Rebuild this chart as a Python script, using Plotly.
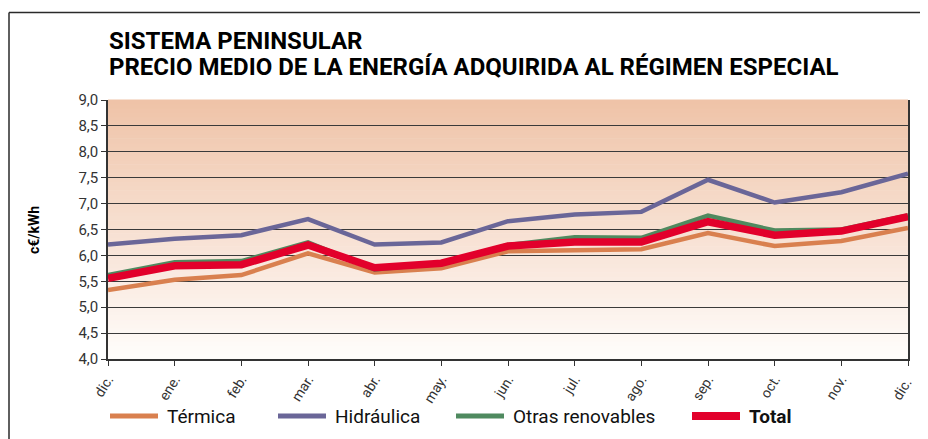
import plotly.graph_objects as go

months = ["dic.", "ene.", "feb.", "mar.", "abr.", "may.", "jun.", "jul.", "ago.", "sep.", "oct.", "nov.", "dic. "]
termica = [5.33, 5.53, 5.62, 6.04, 5.67, 5.75, 6.08, 6.10, 6.12, 6.43, 6.18, 6.28, 6.53]
hidraulica = [6.21, 6.32, 6.39, 6.70, 6.21, 6.25, 6.66, 6.79, 6.84, 7.46, 7.02, 7.22, 7.58]
otras = [5.62, 5.87, 5.89, 6.25, 5.73, 5.85, 6.20, 6.35, 6.34, 6.77, 6.48, 6.50, 6.77]
total = [5.56, 5.80, 5.82, 6.20, 5.76, 5.85, 6.18, 6.26, 6.26, 6.65, 6.39, 6.47, 6.75]
y_ticks = [4.0, 4.5, 5.0, 5.5, 6.0, 6.5, 7.0, 7.5, 8.0, 8.5, 9.0]
y_ticktext = ["4,0", "4,5", "5,0", "5,5", "6,0", "6,5", "7,0", "7,5", "8,0", "8,5", "9,0"]
series_names = ["Térmica", "Hidráulica", "Otras renovables", "Total"]
series_colors = ["#d9804f", "#6a6698", "#4f8a5f", "#e2002b"]
series_widths = [4.5, 4.5, 4.5, 7.5]

FONT = "Liberation Sans Narrow, Arial Narrow, Roboto, sans-serif"

OFF = 8  # page body margin
W, H = 920, 431
L, R, T, B = 100, 20, 92, 80
pw, ph = W - L - R, H - T - B

def px_x(x):
    return (x - OFF - L) / pw

def px_y(y):
    return (H - B - (y - OFF)) / ph

fig = go.Figure()
for name, vals, color, w in zip(series_names, [termica, hidraulica, otras, total],
                                series_colors, series_widths):
    fig.add_trace(go.Scatter(x=months, y=vals, mode="lines", name=name,
                             line=dict(color=color, width=w), showlegend=False))

shapes = []
# gradient background
top = (239, 195, 168)
bot = (255, 253, 251)
n = 60
for i in range(n):
    f = i / (n - 1)
    c = tuple(round(bot[k] + (top[k] - bot[k]) * f) for k in range(3))
    shapes.append(dict(type="rect", xref="paper", yref="paper", x0=0, x1=1,
                       y0=i / n, y1=(i + 1) / n + 0.002, line=dict(width=0),
                       fillcolor="rgb(%d,%d,%d)" % c, layer="below"))
# outer frame
shapes.append(dict(type="line", xref="paper", yref="paper", x0=px_x(9), x1=px_x(940),
                   y0=px_y(12.5), y1=px_y(12.5), line=dict(color="#2a2a2a", width=1.5)))
shapes.append(dict(type="line", xref="paper", yref="paper", x0=px_x(9), x1=px_x(9),
                   y0=px_y(12.5), y1=px_y(450), line=dict(color="#2a2a2a", width=1.5)))

annotations = [
    dict(text="<b>SISTEMA PENINSULAR</b>", xref="paper", yref="paper", x=px_x(107), y=px_y(41),
         xanchor="left", yanchor="middle", showarrow=False,
         font=dict(family=FONT, size=24, color="#000")),
    dict(text="<b>PRECIO MEDIO DE LA ENERGÍA ADQUIRIDA AL RÉGIMEN ESPECIAL</b>", xref="paper",
         yref="paper", x=px_x(107), y=px_y(67), xanchor="left", yanchor="middle", showarrow=False,
         font=dict(family=FONT, size=24, color="#000")),
    dict(text="<b>c€/kWh</b>", xref="paper", yref="paper", x=px_x(34), y=px_y(230),
         xanchor="center", yanchor="middle", textangle=-90, showarrow=False,
         font=dict(family=FONT, size=14, color="#000")),
]

# manual legend
leg_line_x = [108, 276, 454, 690]
leg_y = 416
for name, color, w, lx in zip(series_names, series_colors, series_widths, leg_line_x):
    shapes.append(dict(type="line", xref="paper", yref="paper", x0=px_x(lx + 2), x1=px_x(lx + 50),
                       y0=px_y(leg_y), y1=px_y(leg_y),
                       line=dict(color=color, width=w + 0.5)))
    label = "<b>%s</b>" % name if name == "Total" else name
    annotations.append(dict(text=label, xref="paper", yref="paper", x=px_x(lx + 57),
                            y=px_y(leg_y), xanchor="left", yanchor="middle", showarrow=False,
                            font=dict(family=FONT, size=19, color="#111")))

fig.update_layout(
    width=W, height=H,
    margin=dict(l=L, r=R, t=T, b=B),
    paper_bgcolor="white", plot_bgcolor="rgba(0,0,0,0)",
    font=dict(family=FONT, color="#333"),
    shapes=shapes, annotations=annotations,
    showlegend=False,
    xaxis=dict(showgrid=False, showline=True, linecolor="#333", linewidth=1.5,
               ticks="outside", ticklen=5, tickcolor="#333", tickangle=-58,
               tickfont=dict(family=FONT, size=14, color="#333"), range=[0, 12],
               zeroline=False),
    yaxis=dict(range=[4, 9], tickvals=y_ticks, ticktext=y_ticktext, showgrid=True,
               gridcolor="#3a3a3a", gridwidth=1, showline=True, mirror=True,
               linecolor="#333", linewidth=1.5, ticks="outside", ticklen=5,
               tickcolor="#333", tickfont=dict(family=FONT, size=15, color="#333"),
               zeroline=False),
)

fig.write_html("out.html")
